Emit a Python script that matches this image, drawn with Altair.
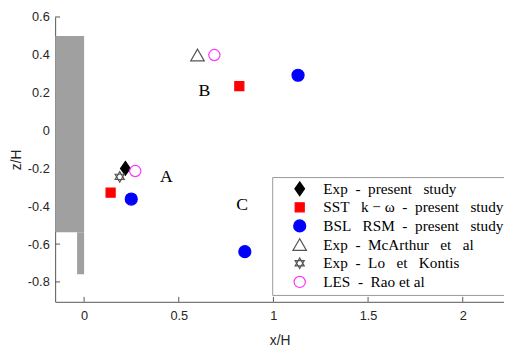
import altair as alt
import pandas as pd

S = "\u00a0"
series = [
    "Exp" + S * 2 + "-" + S * 2 + "present" + S * 3 + "study",
    "SST" + S * 3 + "k − ω" + S * 2 + "-" + S * 2 + "present" + S * 3 + "study",
    "BSL" + S * 3 + "RSM" + S * 2 + "-" + S * 2 + "present" + S * 3 + "study",
    "Exp" + S * 2 + "-" + S * 2 + "McArthur" + S * 3 + "et" + S * 3 + "al",
    "Exp" + S * 2 + "-" + S * 2 + "Lo" + S * 3 + "et" + S * 3 + "Kontis",
    "LES" + S * 2 + "-" + S * 2 + "Rao" + S + "et" + S + "al",
]
shapes = [
    "M0,-1L0.7,0L0,1L-0.7,0Z",
    "square",
    "circle",
    "triangle-up",
    "M0,-1L0.866,0.5L-0.866,0.5Z M0,1L0.866,-0.5L-0.866,-0.5Z",
    "circle",
]
fills = ["black", "#ff0000", "#0000ff", "transparent", "transparent", "transparent"]
strokes = ["black", "#ff0000", "#0000ff", "#555555", "#555555", "#ff33ff"]
sizes = [200, 85, 150, 190, 115, 130]

# measured points
pt_series = [0, 4, 5, 1, 2, 3, 5, 1, 2, 2]
pt_x = [0.218, 0.188, 0.27, 0.14, 0.249, 0.599, 0.688, 0.82, 1.13, 0.849]
pt_z = [-0.200, -0.245, -0.214, -0.328, -0.362, 0.399, 0.399, 0.235, 0.292, -0.64]

# region labels
lab_text = ["A", "B", "C"]
lab_x = [0.435, 0.635, 0.835]
lab_z = [-0.245, 0.21, -0.395]

# building (gray block)
bx1 = [-0.153, -0.037]
bx2 = [0.0, 0.0]
bz1 = [-0.537, -0.76]
bz2 = [0.5, -0.537]

xticks = [0, 0.5, 1, 1.5, 2]
yticks = [-0.8, -0.6, -0.4, -0.2, 0, 0.2, 0.4, 0.6]

XD = [-0.153, 2.218]
YD = [-0.905, 0.6]
W, H = 457, 290

pts = pd.DataFrame({"s": [series[i] for i in pt_series], "x": pt_x, "z": pt_z})
labs = pd.DataFrame({"t": lab_text, "x": lab_x, "z": lab_z})
blds = pd.DataFrame({"x1": bx1, "x2": bx2, "z1": bz1, "z2": bz2})

xs = alt.Scale(domain=XD, nice=False, zero=False)
ys = alt.Scale(domain=YD, nice=False, zero=False)

axis_style = dict(
    labelFont="Liberation Sans", labelFontSize=13, labelColor="#262626",
    titleFont="Liberation Sans", titleFontSize=14, titleFontWeight="normal",
    titleColor="#262626", domainColor="#555555", ticks=False, grid=False,
    labelExpr="'' + datum.value",
)

xtick = alt.Chart(pd.DataFrame({"v": xticks})).mark_rule(color="#555555").encode(
    x=alt.X("v:Q", scale=xs, axis=alt.Axis(values=xticks, title="x/H", labelPadding=8,
                                           titlePadding=11, **axis_style)),
    y=alt.value(H), y2=alt.value(H - 5),
)
ytick = alt.Chart(pd.DataFrame({"v": yticks})).mark_rule(color="#555555").encode(
    y=alt.Y("v:Q", scale=ys, axis=alt.Axis(values=yticks, title="z/H", labelPadding=6,
                                           titlePadding=4, **axis_style)),
    x=alt.value(0), x2=alt.value(5),
)

bld = alt.Chart(blds).mark_rect(color="#a0a0a0", clip=True).encode(
    x=alt.X("x1:Q", scale=xs), x2="x2:Q",
    y=alt.Y("z1:Q", scale=ys), y2="z2:Q",
)

sc = lambda r: alt.Scale(domain=series, range=r)
points = alt.Chart(pts).mark_point(strokeWidth=1.2, opacity=1).encode(
    x=alt.X("x:Q", scale=xs),
    y=alt.Y("z:Q", scale=ys),
    shape=alt.Shape("s:N", scale=sc(shapes), title=None),
    fill=alt.Fill("s:N", scale=sc(fills), title=None),
    stroke=alt.Stroke("s:N", scale=sc(strokes), title=None),
    size=alt.Size("s:N", scale=alt.Scale(type="ordinal", domain=series, range=sizes), title=None),
)

text = alt.Chart(labs).mark_text(font="Liberation Serif", fontSize=18, color="black").encode(
    x=alt.X("x:Q", scale=xs), y=alt.Y("z:Q", scale=ys), text="t:N",
)

chart = alt.layer(xtick, ytick, bld, points, text).properties(
    width=W, height=H,
    autosize=alt.AutoSizeParams(type="none"),
    padding={"left": 48, "top": 6, "right": 0, "bottom": 50},
).configure_view(stroke=None).configure_legend(
    orient="none", legendX=221, legendY=163,
    strokeColor="#999999", fillColor="white", padding=4,
    labelFont="Liberation Serif", labelFontSize=15.5, labelColor="black",
    symbolOffset=16, rowPadding=1, labelOffset=16, symbolStrokeWidth=1.2,
    labelLimit=400,
)

chart.save("out.html", embed_options={"renderer": "svg", "actions": False})
